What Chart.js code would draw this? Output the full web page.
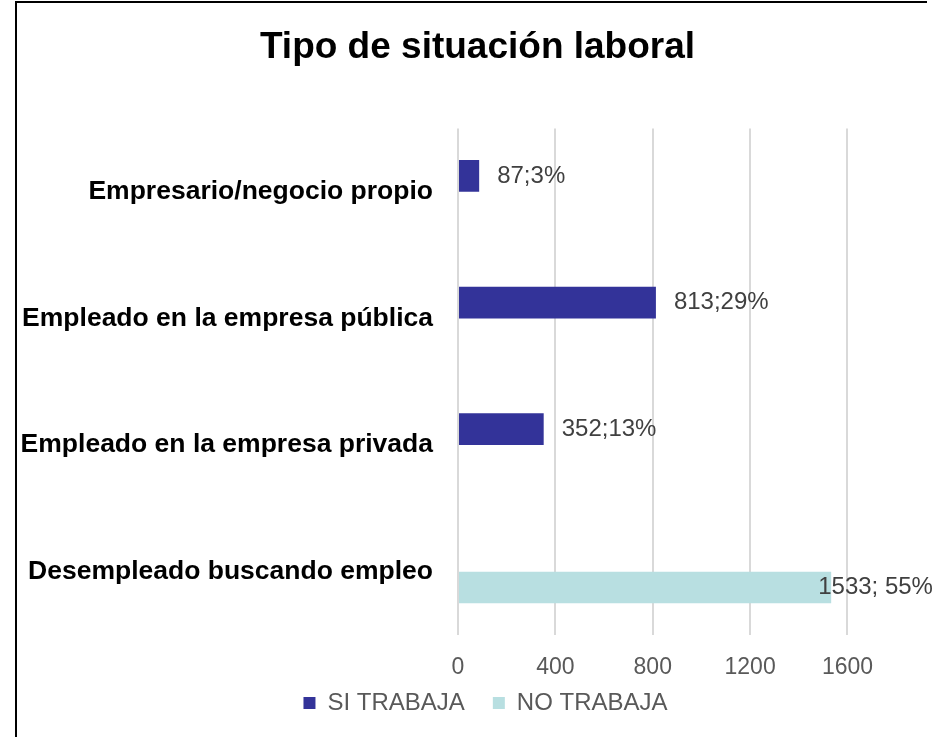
<!DOCTYPE html>
<html>
<head>
<meta charset="utf-8">
<script src="https://cdn.jsdelivr.net/npm/chart.js@4"></script>
<style>
  html, body { margin: 0; padding: 0; background: #fff; overflow: hidden; width: 936px; height: 737px; }
  #wrap { position: absolute; left: 15px; top: 0; width: 925px; height: 737px; }
  #frame { position: absolute; left: 15px; top: 1px; width: 912px; height: 760px;
           border-left: 2px solid #000; border-top: 2px solid #000; box-sizing: border-box; }
</style>
</head>
<body>
<div id="wrap">
  <canvas id="barChart" width="925" height="737"></canvas>
</div>
<div id="frame"></div>
<script>
const categories = [
    "Empresario/negocio propio",
    "Empleado en la empresa pública",
    "Empleado en la empresa privada",
    "Desempleado buscando empleo"
];
const siTrabaja = [87, 813, 352, null];
const noTrabaja = [null, null, null, 1533];
const xTicks = [0, 400, 800, 1200, 1600];

document.addEventListener("DOMContentLoaded", function() {

    const total = siTrabaja.concat(noTrabaja).reduce((s, v) => s + (v || 0), 0);

    // value;percent labels drawn next to each bar
    const barLabels = {
        id: "barLabels",
        afterLayout(chart) {
            // pull the legend up a bit, closer to the axis ticks
            chart.legend.top -= 12;
            chart.legend.bottom -= 12;
            chart.legend.left += 8;
            chart.legend.right += 8;
        },
        afterDatasetsDraw(chart) {
            const ctx = chart.ctx;
            ctx.save();
            ctx.font = "24px 'Liberation Sans', Arial, sans-serif";
            ctx.fillStyle = "#404040";
            ctx.textBaseline = "middle";
            ctx.textAlign = "left";
            chart.data.datasets.forEach((ds, di) => {
                const meta = chart.getDatasetMeta(di);
                meta.data.forEach((bar, i) => {
                    const v = ds.data[i];
                    if (v == null) return;
                    const pct = Math.round(v / total * 100);
                    ctx.fillText(v + ds.sep + pct + "%", bar.x + ds.labelOffset, bar.y);
                });
            });
            ctx.restore();
        }
    };

    Chart.defaults.font.family = "'Liberation Sans', Arial, sans-serif";

    new Chart("barChart", {
        type: "bar",
        data: {
            labels: categories,
            datasets: [{
                label: "SI TRABAJA",
                data: siTrabaja,
                backgroundColor: "#333399",
                sep: ";",
                labelOffset: 18,
                categoryPercentage: 0.5,
                barPercentage: 1.0
            }, {
                label: "NO TRABAJA",
                data: noTrabaja,
                backgroundColor: "#B8DFE1",
                sep: "; ",
                labelOffset: -13,
                categoryPercentage: 0.5,
                barPercentage: 1.0
            }]
        },
        options: {
            indexAxis: "y",
            responsive: false,
            animation: false,
            layout: {
                padding: { left: 0, right: 0, top: 0, bottom: 0 }
            },
            plugins: {
                title: {
                    display: true,
                    text: "Tipo de situación laboral",
                    color: "#000",
                    font: { size: 37, weight: "bold" },
                    padding: { top: 26, bottom: 58 }
                },
                legend: {
                    position: "bottom",
                    labels: {
                        color: "#595959",
                        font: { size: 24 },
                        boxWidth: 12,
                        boxHeight: 12,
                        padding: 28
                    }
                },
                tooltip: { enabled: false }
            },
            scales: {
                x: {
                    min: 0,
                    max: 1980,
                    afterBuildTicks: function(scale) {
                        scale.ticks = xTicks.map(v => ({ value: v }));
                    },
                    afterFit: function(scale) {
                        scale.height = 40;
                    },
                    grid: { color: "#D9D9D9", lineWidth: 2, drawTicks: false },
                    border: { display: false },
                    ticks: {
                        color: "#595959",
                        font: { size: 23 },
                        padding: 19,
                        callback: function(value) { return String(value); }
                    }
                },
                y: {
                    grid: { display: false },
                    border: { display: false },
                    afterFit: function(scale) {
                        scale.width = 443;
                    },
                    ticks: {
                        color: "#000",
                        font: { size: 26.5, weight: "bold" },
                        padding: 17
                    }
                }
            }
        },
        plugins: [barLabels]
    });

});
</script>
</body>
</html>
